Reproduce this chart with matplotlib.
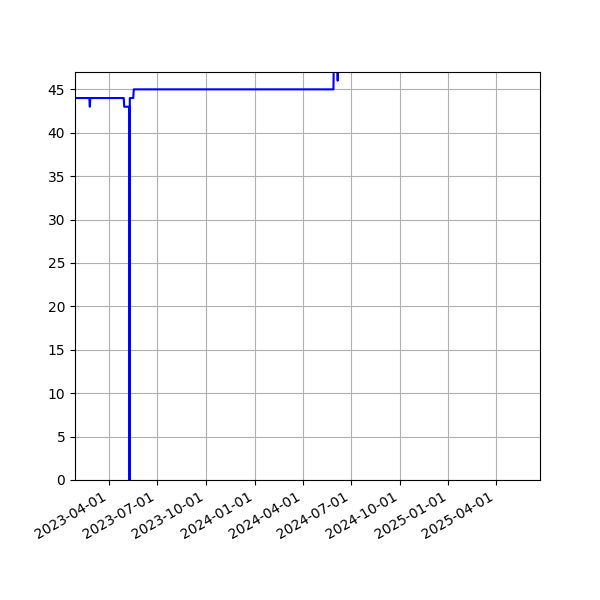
import numpy as np
import matplotlib
matplotlib.use('Agg')
import matplotlib.pyplot as plt
import matplotlib.dates as mdates
from matplotlib.ticker import MultipleLocator

dates = ['2023-01-27T00', '2023-02-23T00', '2023-02-24T00', '2023-02-25T00', '2023-04-29T00',
         '2023-04-30T00', '2023-05-09T12', '2023-05-10T00', '2023-05-10T12', '2023-05-17T00',
         '2023-05-18T00', '2024-05-29T00', '2024-05-30T00', '2024-06-05T00', '2024-06-06T00',
         '2024-06-07T00', '2024-06-12T00']
values = [44, 44, 43, 44, 44,
          43, 43, 0, 44, 44,
          45, 45, 50, 50, 46,
          50, 50]

x = np.array(dates, dtype='datetime64[h]')
y = np.array(values)

fig, ax = plt.subplots(figsize=(6, 6))
ax.plot(x, y, color='blue')
ax.set_xlim(np.datetime64('2023-01-27'), np.datetime64('2025-06-23'))
ax.set_ylim(0, 47)
ax.yaxis.set_major_locator(MultipleLocator(5))
ax.xaxis.set_major_locator(mdates.MonthLocator(bymonth=[1, 4, 7, 10]))
ax.xaxis.set_major_formatter(mdates.DateFormatter('%Y-%m-%d'))
ax.grid(True)
fig.autofmt_xdate()
plt.savefig('out.png', dpi=100)
